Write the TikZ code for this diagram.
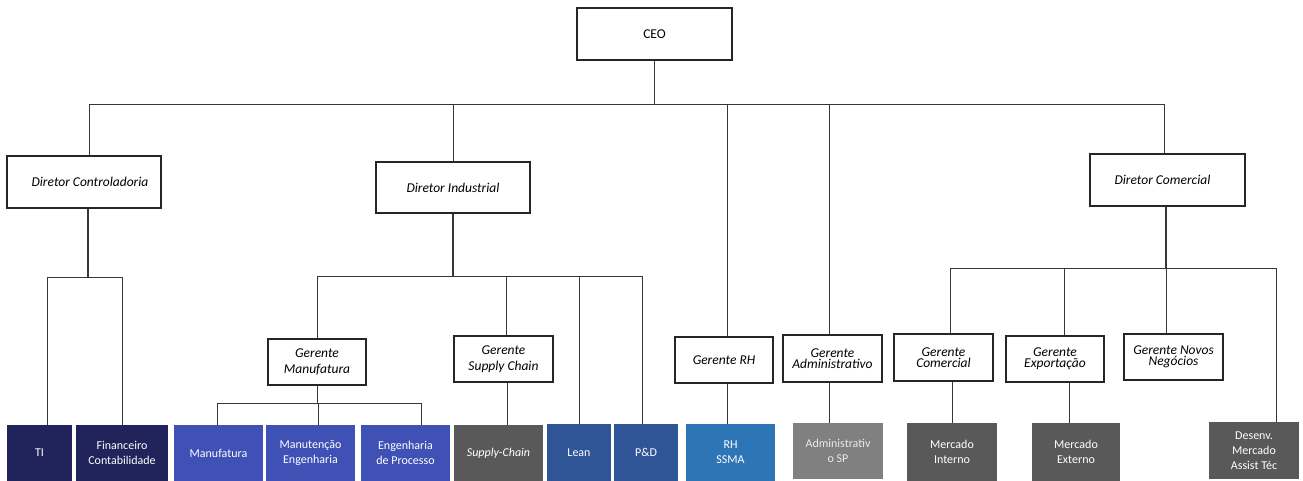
\documentclass[tikz,border=0pt]{standalone}
\usepackage{fontspec}
\setmainfont{Carlito}
\definecolor{navy}{RGB}{32,36,90}
\definecolor{indigo}{RGB}{63,81,181}
\definecolor{dgray}{RGB}{89,89,89}
\definecolor{steel}{RGB}{47,85,151}
\definecolor{azure}{RGB}{46,117,182}
\definecolor{mgray}{RGB}{128,128,128}
\definecolor{linec}{RGB}{55,55,55}
\begin{document}
\begin{tikzpicture}[x=1pt,y=-1pt,
  hdr/.style={draw=black!85, line width=1.2pt, fill=white, inner sep=0pt,
    align=center, font=\fontsize{13.5}{15}\selectfont\itshape},
  mgr/.style={hdr, font=\fontsize{13.5}{15.5}\selectfont\itshape},
  mgrtight/.style={hdr, font=\fontsize{13.5}{11}\selectfont\itshape},
  unit/.style={draw=none, inner sep=0pt, align=center, text=white,
    font=\fontsize{12}{15}\selectfont},
  conn/.style={draw=linec, line width=1pt},
  thickconn/.style={draw=linec, line width=1.8pt}
]
\useasboundingbox (0,0) rectangle (1303,481);

% top levels
\node[hdr, font=\fontsize{13.5}{15}\selectfont, minimum width=155pt, minimum height=52pt] (ceo) at (654.5,34) {CEO};
\node[hdr, minimum width=154pt, minimum height=52pt] (dctrl) at (84,182) {\hspace*{12pt}Diretor Controladoria};
\node[hdr, minimum width=154pt, minimum height=51pt] (dind) at (453,187.5) {Diretor Industrial};
\node[hdr, minimum width=155pt, minimum height=52pt] (dcom) at (1167.5,180) {Diretor Comercial\hspace*{10pt}};

% managers
\node[mgr, minimum width=98pt, minimum height=46pt] (gman) at (317,362) {Gerente\\Manufatura};
\node[mgr, minimum width=99pt, minimum height=46pt] (gsc) at (503.5,359) {Gerente\\Supply Chain};
\node[mgrtight, minimum width=98pt, minimum height=46pt] (grh) at (724,360) {Gerente RH};
\node[mgrtight, minimum width=99pt, minimum height=47pt] (gadm) at (832.5,358.5) {Gerente\\Administrativo};
\node[mgrtight, minimum width=99pt, minimum height=47pt] (gcom) at (943.5,357.5) {Gerente\\Comercial};
\node[mgrtight, minimum width=98pt, minimum height=46pt] (gexp) at (1055,359) {Gerente\\Exportação};
\node[mgrtight, minimum width=99pt, minimum height=46pt] (gnov) at (1173.5,357) {Gerente Novos\\Negócios};

% units
\node[unit, fill=navy, minimum width=65pt, minimum height=56pt] (ti) at (39.5,453) {TI};
\node[unit, fill=navy, minimum width=92pt, minimum height=56pt] (fin) at (122,453) {Financeiro\\Contabilidade};
\node[unit, fill=indigo, minimum width=89pt, minimum height=56pt] (man) at (218.5,453) {Manufatura};
\node[unit, fill=indigo, minimum width=89pt, minimum height=56pt] (mnt) at (310.5,453) {Manutenção\\Engenharia};
\node[unit, fill=indigo, minimum width=89pt, minimum height=56pt] (eng) at (405.5,453) {Engenharia\\de Processo};
\node[unit, fill=dgray, minimum width=89pt, minimum height=56pt, font=\fontsize{12}{15}\selectfont\itshape] (sc) at (498.5,453) {Supply-Chain};
\node[unit, fill=steel, minimum width=64pt, minimum height=57pt] (lean) at (579,452.5) {Lean};
\node[unit, fill=steel, minimum width=64pt, minimum height=57pt] (pd) at (646,452.5) {P\&D};
\node[unit, fill=azure, minimum width=89pt, minimum height=57pt] (rh) at (730.5,452.5) {RH\\SSMA};
\node[unit, fill=mgray, minimum width=90pt, minimum height=56pt, text=white!92!black] (adm) at (838,451) {Administrativ\\o SP};
\node[unit, fill=dgray, minimum width=90pt, minimum height=58pt] (mi) at (952,452) {Mercado\\Interno};
\node[unit, fill=dgray, minimum width=88pt, minimum height=58pt] (me) at (1076,452) {Mercado\\Externo};
\node[unit, fill=dgray, minimum width=90pt, minimum height=57pt] (des) at (1254,450.5) {Desenv.\\Mercado\\Assist Téc};

% bus levels
\coordinate (bus) at (0,105);
\coordinate (cbus) at (0,277);
\coordinate (ibus) at (0,276);
\coordinate (mbus) at (0,403);
\coordinate (kbus) at (0,268);

% CEO level
\draw[conn] (ceo.south) -- (ceo.south |- bus);
\draw[conn] ([xshift=5pt]dctrl.north) |- ([xshift=-3pt]dcom.north |- bus) -- ([xshift=-3pt]dcom.north);
\draw[conn] (dind.north) -- (dind.north |- bus);
\draw[conn] ([xshift=3pt]grh.north) -- ([xshift=3pt]grh.north |- bus);
\draw[conn] ([xshift=-3.5pt]gadm.north) -- ([xshift=-3.5pt]gadm.north |- bus);

% Controladoria
\draw[thickconn] ([xshift=4pt]dctrl.south) -- ([xshift=4pt]dctrl.south |- cbus);
\draw[conn] ([xshift=7.5pt]ti.north) |- (fin.north |- cbus) -- (fin.north);

% Industrial
\draw[thickconn] (dind.south) -- (dind.south |- ibus);
\draw[conn] (gman.north) |- ([xshift=-4pt]pd.north |- ibus) -- ([xshift=-4pt]pd.north);
\draw[conn] ([xshift=3pt]gsc.north) -- ([xshift=3pt]gsc.north |- ibus);
\draw[conn] (lean.north) -- (lean.north |- ibus);

% Manufatura
\draw[conn] (gman.south) -- (gman.south |- mbus);
\draw[conn] ([xshift=-1.5pt]man.north) |- ([xshift=15.5pt]eng.north |- mbus) -- ([xshift=15.5pt]eng.north);
\draw[conn] ([xshift=7.5pt]mnt.north) -- ([xshift=7.5pt]mnt.north |- mbus);

% Supply Chain, RH, Administrativo
\draw[conn] ([xshift=3.5pt]gsc.south) -- ([xshift=8.5pt]sc.north);
\draw[conn] ([xshift=3pt]grh.south) -- ([xshift=-3.5pt]rh.north);
\draw[conn] ([xshift=-3.5pt]gadm.south) -- ([xshift=-9pt]adm.north);

% Comercial
\draw[thickconn] ([xshift=-1.5pt]dcom.south) -- ([xshift=-1.5pt]dcom.south |- kbus);
\draw[conn] ([xshift=6.5pt]gcom.north) |- ([xshift=22pt]des.north |- kbus) -- ([xshift=22pt]des.north);
\draw[conn] ([xshift=9pt]gexp.north) -- ([xshift=9pt]gexp.north |- kbus);
\draw[conn] ([xshift=-7.5pt]gnov.north) -- ([xshift=-7.5pt]gnov.north |- kbus);
\draw[conn] ([xshift=8.5pt]gcom.south) -- (mi.north);
\draw[conn] ([xshift=14pt]gexp.south) -- ([xshift=-7pt]me.north);
\end{tikzpicture}
\end{document}
